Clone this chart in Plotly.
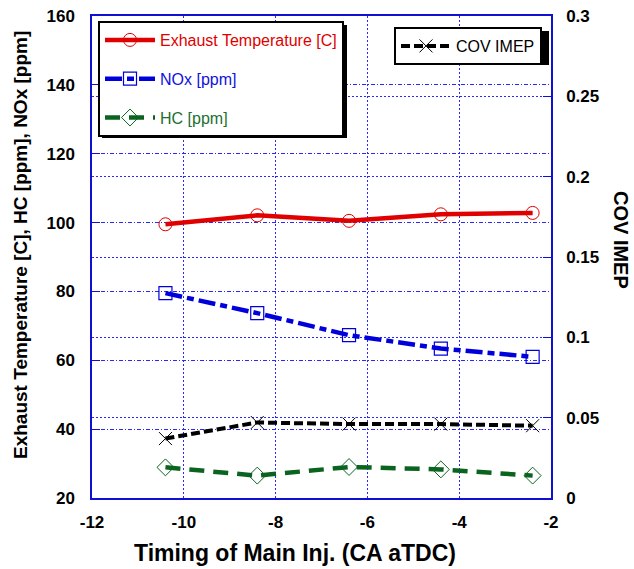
import plotly.graph_objects as go

timing = [-10.4, -8.4, -6.4, -4.4, -2.4]
exhaust = [99.5, 102.1, 100.5, 102.4, 102.8]
nox = [79.5, 73.7, 67.3, 63.4, 61.0]
hc = [28.9, 26.5, 29.0, 28.3, 26.5]
cov = [0.037, 0.047, 0.046, 0.046, 0.045]

x_ticks = [-12, -10, -8, -6, -4, -2]
x_labels = ["-12", "-10", "-8", "-6", "-4", "-2"]
y_ticks = [20, 40, 60, 80, 100, 120, 140, 160]
y2_ticks = [0, 0.05, 0.1, 0.15, 0.2, 0.25, 0.3]
y2_labels = ["0", "0.05", "0.1", "0.15", "0.2", "0.25", "0.3"]

FONT = "Arial, 'Liberation Sans', sans-serif"
RED = "#E00000"
BLUE = "#0000DD"
GREEN = "#0A6420"
AX = "#1010D0"
GRID = "rgb(40,40,255)"

W, H = 634, 569
L, R, T, B = 92, 83, 16, 71
PW, PH = W - L - R, H - T - B

def px(xp):
    return (xp - L) / PW

def py(yp):
    return (H - B - yp) / PH

fig = go.Figure()
fig.add_trace(go.Scatter(
    x=timing, y=exhaust, mode="lines+markers",
    name="<span style='color:#E00000'>Exhaust Temperature [C]</span>",
    line=dict(color=RED, width=4.5),
    marker=dict(symbol="circle-open", size=13, color=RED, line=dict(width=1)),
    legend="legend", legendgroup="a"))
fig.add_trace(go.Scatter(
    x=timing, y=nox, mode="lines+markers",
    name="<span style='color:#1010E0'>NOx [ppm]</span>",
    line=dict(color=BLUE, width=4.5, dash="17px,5px,7px,5px"),
    marker=dict(symbol="square-open", size=13, color=BLUE, line=dict(width=1.2)),
    legend="legend", legendgroup="b"))
fig.add_trace(go.Scatter(
    x=timing, y=hc, mode="lines+markers",
    name="<span style='color:#207030'>HC [ppm]</span>",
    line=dict(color=GREEN, width=4.5, dash="15px,9px"),
    marker=dict(symbol="diamond-open", size=13, color=GREEN, line=dict(width=1)),
    legend="legend", legendgroup="c"))
fig.add_trace(go.Scatter(
    x=timing, y=cov, mode="lines+markers", yaxis="y2",
    name="COV IMEP",
    line=dict(color="black", width=4, dash="9px,4px"),
    marker=dict(symbol="x-thin-open", size=13, color="black", line=dict(width=1, color="black")),
    legend="legend2"))

# legend drop shadows
shadows = [
    (102, 25, 347, 138),
    (398, 31, 549, 65),
]
shapes = []
for x0, y0, x1, y1 in shadows:
    shapes.append(dict(type="rect", xref="paper", yref="paper",
                       x0=px(x0), x1=px(x1), y0=py(y1), y1=py(y0),
                       fillcolor="black", line=dict(width=0), layer="above"))

tickfont = dict(size=17, family=FONT, weight="bold", color="black")

fig.update_layout(
    template="none",
    width=W, height=H,
    margin=dict(l=L, r=R, t=T, b=B, autoexpand=False),
    paper_bgcolor="white", plot_bgcolor="white",
    font=dict(family=FONT, color="black"),
    showlegend=True,
    legend=dict(x=px(98), y=py(21), xanchor="left", yanchor="top",
                bgcolor="white", bordercolor="black", borderwidth=2,
                font=dict(size=16, family=FONT), itemwidth=50,
                tracegroupgap=15, traceorder="grouped"),
    legend2=dict(x=px(394), y=py(27), xanchor="left", yanchor="top",
                 bgcolor="white", bordercolor="black", borderwidth=2,
                 font=dict(size=16, family=FONT, color="black"), itemwidth=50),
    xaxis=dict(range=[-12, -2], tickvals=x_ticks, ticktext=x_labels, automargin=False,
               showline=True, linecolor=AX, linewidth=1.5, mirror=True,
               showgrid=True, gridcolor=GRID, griddash="2px,2px", gridwidth=1,
               zeroline=False, ticks="", ticklabelstandoff=8,
               tickfont=tickfont),
    yaxis=dict(range=[20, 160], tickvals=y_ticks, automargin=False,
               showline=True, linecolor=AX, linewidth=1.5,
               showgrid=True, gridcolor=GRID, griddash="4px,2px,1px,2px", gridwidth=1,
               zeroline=False, ticks="inside", ticklen=8, tickcolor=AX,
               ticklabelstandoff=12,
               tickfont=tickfont),
    yaxis2=dict(range=[0, 0.3], tickvals=y2_ticks, ticktext=y2_labels, automargin=False,
                overlaying="y", side="right",
                showline=True, linecolor=AX, linewidth=1.5,
                showgrid=True, gridcolor=GRID, griddash="2px,2px", gridwidth=1,
                zeroline=False, ticks="inside", ticklen=8, tickcolor=AX,
                ticklabelstandoff=10,
                tickfont=tickfont),
    shapes=shapes,
    annotations=[
        dict(text="Exhaust Temperature [C], HC [ppm], NOx [ppm]", xref="paper", yref="paper",
             x=px(20), y=py(245), xanchor="center", yanchor="middle", textangle=-90,
             showarrow=False, font=dict(size=19, family=FONT, weight="bold", color="black")),
        dict(text="COV IMEP", xref="paper", yref="paper",
             x=px(621), y=py(240), xanchor="center", yanchor="middle", textangle=90,
             showarrow=False, font=dict(size=20, family=FONT, weight="bold", color="black")),
        dict(text="Timing of Main Inj. (CA aTDC)", xref="paper", yref="paper",
             x=px(295), y=py(553), xanchor="center", yanchor="middle",
             showarrow=False, font=dict(size=23, family=FONT, weight="bold", color="black")),
    ],
)

fig.write_html("out.html", config={"displayModeBar": False},
               post_script="document.body.style.margin='0';document.body.style.padding='0';")
